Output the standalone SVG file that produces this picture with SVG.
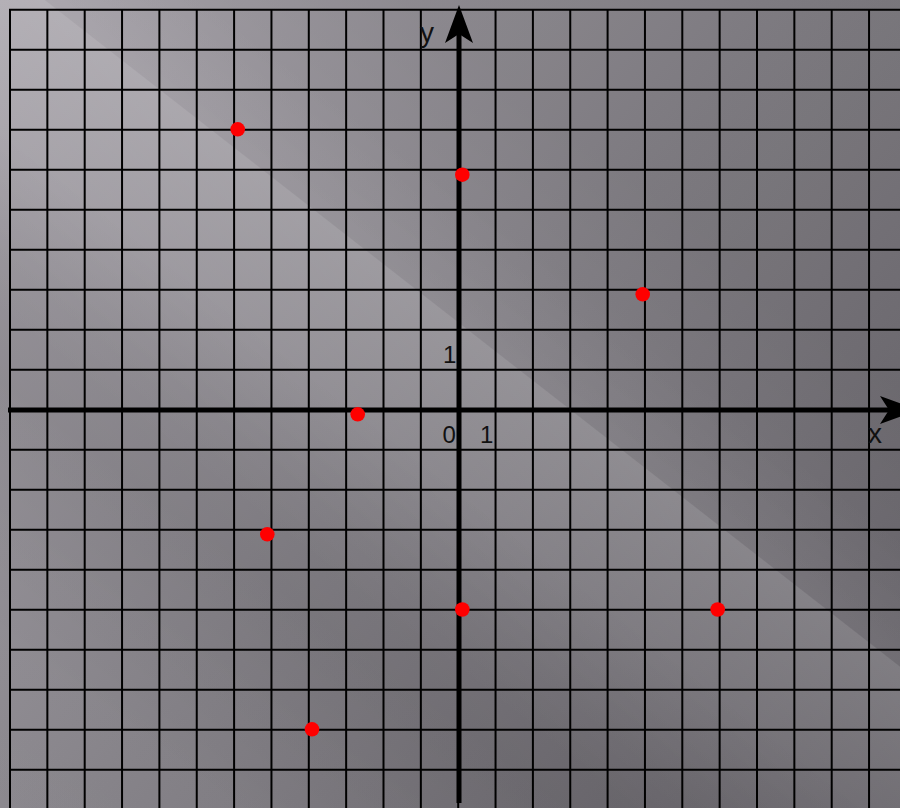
<svg xmlns="http://www.w3.org/2000/svg" width="900" height="808" viewBox="0 0 900 808">
<defs>
<linearGradient id="base" gradientUnits="userSpaceOnUse" x1="0" y1="0" x2="900" y2="808">
<stop offset="0" stop-color="#a8a4ab"/>
<stop offset="0.5" stop-color="#848187"/>
<stop offset="1" stop-color="#646167"/>
</linearGradient>
<linearGradient id="hi" gradientUnits="userSpaceOnUse" x1="-430.5" y1="552.3" x2="369" y2="-473.4">
<stop offset="0" stop-color="#fff" stop-opacity="0.04"/>
<stop offset="0.346" stop-color="#fff" stop-opacity="0"/>
<stop offset="0.4615" stop-color="#fff" stop-opacity="0.08"/>
<stop offset="0.5592" stop-color="#fff" stop-opacity="0.15"/>
<stop offset="0.5600" stop-color="#fff" stop-opacity="0.05"/>
<stop offset="0.64" stop-color="#fff" stop-opacity="0"/>
<stop offset="1" stop-color="#fff" stop-opacity="0"/>
</linearGradient>
<linearGradient id="sh" gradientUnits="userSpaceOnUse" x1="-430.5" y1="552.3" x2="369" y2="-473.4">
<stop offset="0" stop-color="#000" stop-opacity="0"/>
<stop offset="0.16" stop-color="#000" stop-opacity="0.01"/>
<stop offset="0.3077" stop-color="#000" stop-opacity="0.07"/>
<stop offset="0.3846" stop-color="#000" stop-opacity="0.05"/>
<stop offset="0.4615" stop-color="#000" stop-opacity="0"/>
<stop offset="0.5608" stop-color="#000" stop-opacity="0"/>
<stop offset="0.7308" stop-color="#000" stop-opacity="0.06"/>
<stop offset="1" stop-color="#000" stop-opacity="0.06"/>
</linearGradient>
</defs>
<style>
.grid line{stroke:#000;stroke-width:2}
.axis{stroke:#000;stroke-width:5;fill:none}
.head{fill:#000}
.lbl{font-family:"Liberation Sans",Arial,sans-serif;fill:#111}
.ax{font-size:28px}
.num{font-size:24px}
.pt{fill:#ff0000}
</style>
<rect x="0" y="0" width="900" height="808" fill="url(#base)"/>
<rect x="0" y="0" width="900" height="808" fill="url(#hi)"/>
<rect x="0" y="0" width="900" height="808" fill="url(#sh)"/>
<g id="grid" class="grid">
<line x1="10" y1="9" x2="10" y2="808"/>
<line x1="47.35" y1="9" x2="47.35" y2="808"/>
<line x1="84.7" y1="9" x2="84.7" y2="808"/>
<line x1="122.05" y1="9" x2="122.05" y2="808"/>
<line x1="159.4" y1="9" x2="159.4" y2="808"/>
<line x1="196.75" y1="9" x2="196.75" y2="808"/>
<line x1="234.1" y1="9" x2="234.1" y2="808"/>
<line x1="271.45" y1="9" x2="271.45" y2="808"/>
<line x1="308.8" y1="9" x2="308.8" y2="808"/>
<line x1="346.15" y1="9" x2="346.15" y2="808"/>
<line x1="383.5" y1="9" x2="383.5" y2="808"/>
<line x1="420.85" y1="9" x2="420.85" y2="808"/>
<line x1="458.2" y1="9" x2="458.2" y2="808"/>
<line x1="495.55" y1="9" x2="495.55" y2="808"/>
<line x1="532.9" y1="9" x2="532.9" y2="808"/>
<line x1="570.25" y1="9" x2="570.25" y2="808"/>
<line x1="607.6" y1="9" x2="607.6" y2="808"/>
<line x1="644.95" y1="9" x2="644.95" y2="808"/>
<line x1="682.3" y1="9" x2="682.3" y2="808"/>
<line x1="719.65" y1="9" x2="719.65" y2="808"/>
<line x1="757" y1="9" x2="757" y2="808"/>
<line x1="794.35" y1="9" x2="794.35" y2="808"/>
<line x1="831.7" y1="9" x2="831.7" y2="808"/>
<line x1="869.05" y1="9" x2="869.05" y2="808"/>
<line x1="9" y1="9.7" x2="900" y2="9.7"/>
<line x1="9" y1="49.7" x2="900" y2="49.7"/>
<line x1="9" y1="89.7" x2="900" y2="89.7"/>
<line x1="9" y1="129.7" x2="900" y2="129.7"/>
<line x1="9" y1="169.7" x2="900" y2="169.7"/>
<line x1="9" y1="209.7" x2="900" y2="209.7"/>
<line x1="9" y1="249.7" x2="900" y2="249.7"/>
<line x1="9" y1="289.7" x2="900" y2="289.7"/>
<line x1="9" y1="329.7" x2="900" y2="329.7"/>
<line x1="9" y1="369.7" x2="900" y2="369.7"/>
<line x1="9" y1="449.7" x2="900" y2="449.7"/>
<line x1="9" y1="489.7" x2="900" y2="489.7"/>
<line x1="9" y1="529.7" x2="900" y2="529.7"/>
<line x1="9" y1="569.7" x2="900" y2="569.7"/>
<line x1="9" y1="609.7" x2="900" y2="609.7"/>
<line x1="9" y1="649.7" x2="900" y2="649.7"/>
<line x1="9" y1="689.7" x2="900" y2="689.7"/>
<line x1="9" y1="729.7" x2="900" y2="729.7"/>
<line x1="9" y1="769.7" x2="900" y2="769.7"/>
</g>
<g id="axes">
<line class="axis" x1="8" y1="410" x2="895" y2="410"/>
<polygon class="head" points="918,410 880,396 889,410 880,424"/>
<line class="axis" x1="459" y1="803" x2="459" y2="30"/>
<polygon class="head" points="459,5 473,43 459,34 445,43"/>
</g>
<g id="labels" class="lbl">
<text class="ax" x="420" y="42">y</text>
<text class="ax" x="868" y="443">x</text>
<text class="num" x="443" y="363">1</text>
<text class="num" x="442.5" y="443">0</text>
<text class="num" x="480" y="443">1</text>
</g>
<g id="points">
<g id="p1"><circle class="pt" cx="237.7" cy="129.3" r="7.3"/></g>
<g id="p2"><circle class="pt" cx="462.3" cy="174.7" r="7.3"/></g>
<g id="p3"><circle class="pt" cx="642.7" cy="294.3" r="7.3"/></g>
<g id="p4"><circle class="pt" cx="357.7" cy="414.3" r="7.3"/></g>
<g id="p5"><circle class="pt" cx="267.3" cy="534.3" r="7.3"/></g>
<g id="p6"><circle class="pt" cx="462.3" cy="609.5" r="7.3"/></g>
<g id="p7"><circle class="pt" cx="717.7" cy="609.5" r="7.3"/></g>
<g id="p8"><circle class="pt" cx="312" cy="729.3" r="7.3"/></g>
</g>
</svg>
